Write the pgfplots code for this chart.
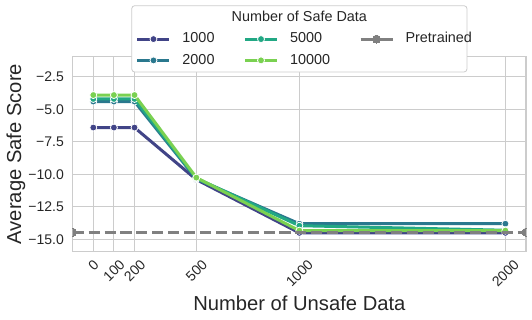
\documentclass[border=0pt]{standalone}
\usepackage{fontspec}
\setmainfont{Liberation Sans}
\usepackage{pgfplots}
\pgfplotsset{compat=1.18}
\definecolor{ca}{HTML}{414487}
\definecolor{cb}{HTML}{2A788E}
\definecolor{cc}{HTML}{22A884}
\definecolor{cd}{HTML}{7AD151}
\definecolor{cgray}{HTML}{808080}
\definecolor{ctext}{HTML}{262626}
\definecolor{cgrid}{HTML}{CCCCCC}
\newlength\rlw\newlength\rls
\newcommand\rl[1]{\settowidth\rlw{#1}\setlength\rls{\dimexpr 4.95bp+(\rlw+10bp)/4\relax}\makebox[0pt][c]{\kern-2\rls\raisebox{\dimexpr-\rls-5bp\relax}[0pt][0pt]{#1}}}
\begin{document}
\begin{tikzpicture}
\useasboundingbox (0,0) rectangle (532bp,320bp);
\begin{axis}[
  at={(72.7bp,68.3bp)}, anchor=south west,
  scale only axis, width=453.3bp, height=195bp,
  xmin=-100, xmax=2100, ymin=-15.95, ymax=-0.95,
  xtick={0,100,200,500,1000,2000},
  xticklabels={\rl{0},\rl{100},\rl{200},\rl{500},\rl{1000},\rl{2000}},
  ytick={-15,-12.5,-10,-7.5,-5,-2.5},
  yticklabels={−15.0,−12.5,−10.0,−7.5,−5.0,−2.5},
  major tick length=0pt,
  grid=major, major grid style={draw=cgrid, line width=1bp},
  axis line style={draw=cgrid, line width=1.2bp},
  tick label style={font=\fontsize{14bp}{16bp}\selectfont, text=ctext},
  xticklabel style={rotate=45, inner sep=0pt, anchor=center},
  yticklabel style={inner sep=0pt, anchor=east, xshift=-8.7bp},
  xlabel={Number of Unsafe Data}, ylabel={Average Safe Score},
  label style={font=\fontsize{20.2bp}{24bp}\selectfont, text=ctext},
  xlabel style={at={(axis description cs:0.5,-0.3015)}, anchor=base},
  ylabel style={at={(axis description cs:-0.1136,0.501)}, anchor=base},
  clip mode=individual, clip marker paths=true,
  legend columns=2, transpose legend,
  legend cell align=left,
  legend image code/.code={\draw[mark repeat=2,mark phase=2,#1] plot coordinates {(0bp,0bp) (16bp,0bp) (32bp,0bp)};},
  legend style={draw=none, fill=none, inner sep=0pt, outer sep=0pt,
    at={(axis description cs:0.1396,1.1249)}, anchor=north west,
    font=\fontsize{14.4bp}{17bp}\selectfont, text=ctext,
    nodes={inner sep=0pt, text height=10.5bp, text depth=3bp},
    row sep=7.8bp,
    /tikz/every odd column/.append style={column sep=11.5bp},
    /tikz/every even column/.append style={column sep=29bp}},
]
\draw[draw=cgrid, fill=white, line width=0.8bp, rounded corners=3bp] (axis description cs:0.1302,0.9215) rectangle (axis description cs:0.8698,1.2615);
\node[anchor=base, font=\fontsize{14.4bp}{17bp}\selectfont, text=ctext] at (axis description cs:0.5,1.1789) {Number of Safe Data};
\addplot[ca, line width=3bp, mark=*, mark size=3.5bp, mark options={fill=ca, draw=white, line width=0.8bp}] coordinates {(0,-6.4)(100,-6.4)(200,-6.4)(500,-10.4)(1000,-14.5)(2000,-14.5)};
\addlegendentry{1000}
\addplot[cb, line width=3bp, mark=*, mark size=3.5bp, mark options={fill=cb, draw=white, line width=0.8bp}] coordinates {(0,-4.4)(100,-4.4)(200,-4.4)(500,-10.35)(1000,-13.8)(2000,-13.8)};
\addlegendentry{2000}
\addplot[cc, line width=3bp, mark=*, mark size=3.5bp, mark options={fill=cc, draw=white, line width=0.8bp}] coordinates {(0,-4.2)(100,-4.2)(200,-4.2)(500,-10.3)(1000,-13.95)(2000,-14.3)};
\addlegendentry{5000}
\addplot[cd, line width=3bp, mark=*, mark size=3.5bp, mark options={fill=cd, draw=white, line width=0.8bp}] coordinates {(0,-3.9)(100,-3.9)(200,-3.9)(500,-10.25)(1000,-14.33)(2000,-14.33)};
\addlegendentry{10000}
\addplot[cgray, line width=3bp, dash pattern=on 11.1bp off 4.8bp, mark=*, mark size=4bp, mark options={solid, fill=cgray, draw=cgray, line width=0pt}, forget plot] coordinates {(-100,-14.45)(2100,-14.45)};
\addlegendimage{cgray, line width=3bp, mark=*, mark size=4bp, mark options={solid, fill=cgray, draw=cgray, line width=0pt}}
\addlegendentry{Pretrained}
\end{axis}
\end{tikzpicture}
\end{document}
